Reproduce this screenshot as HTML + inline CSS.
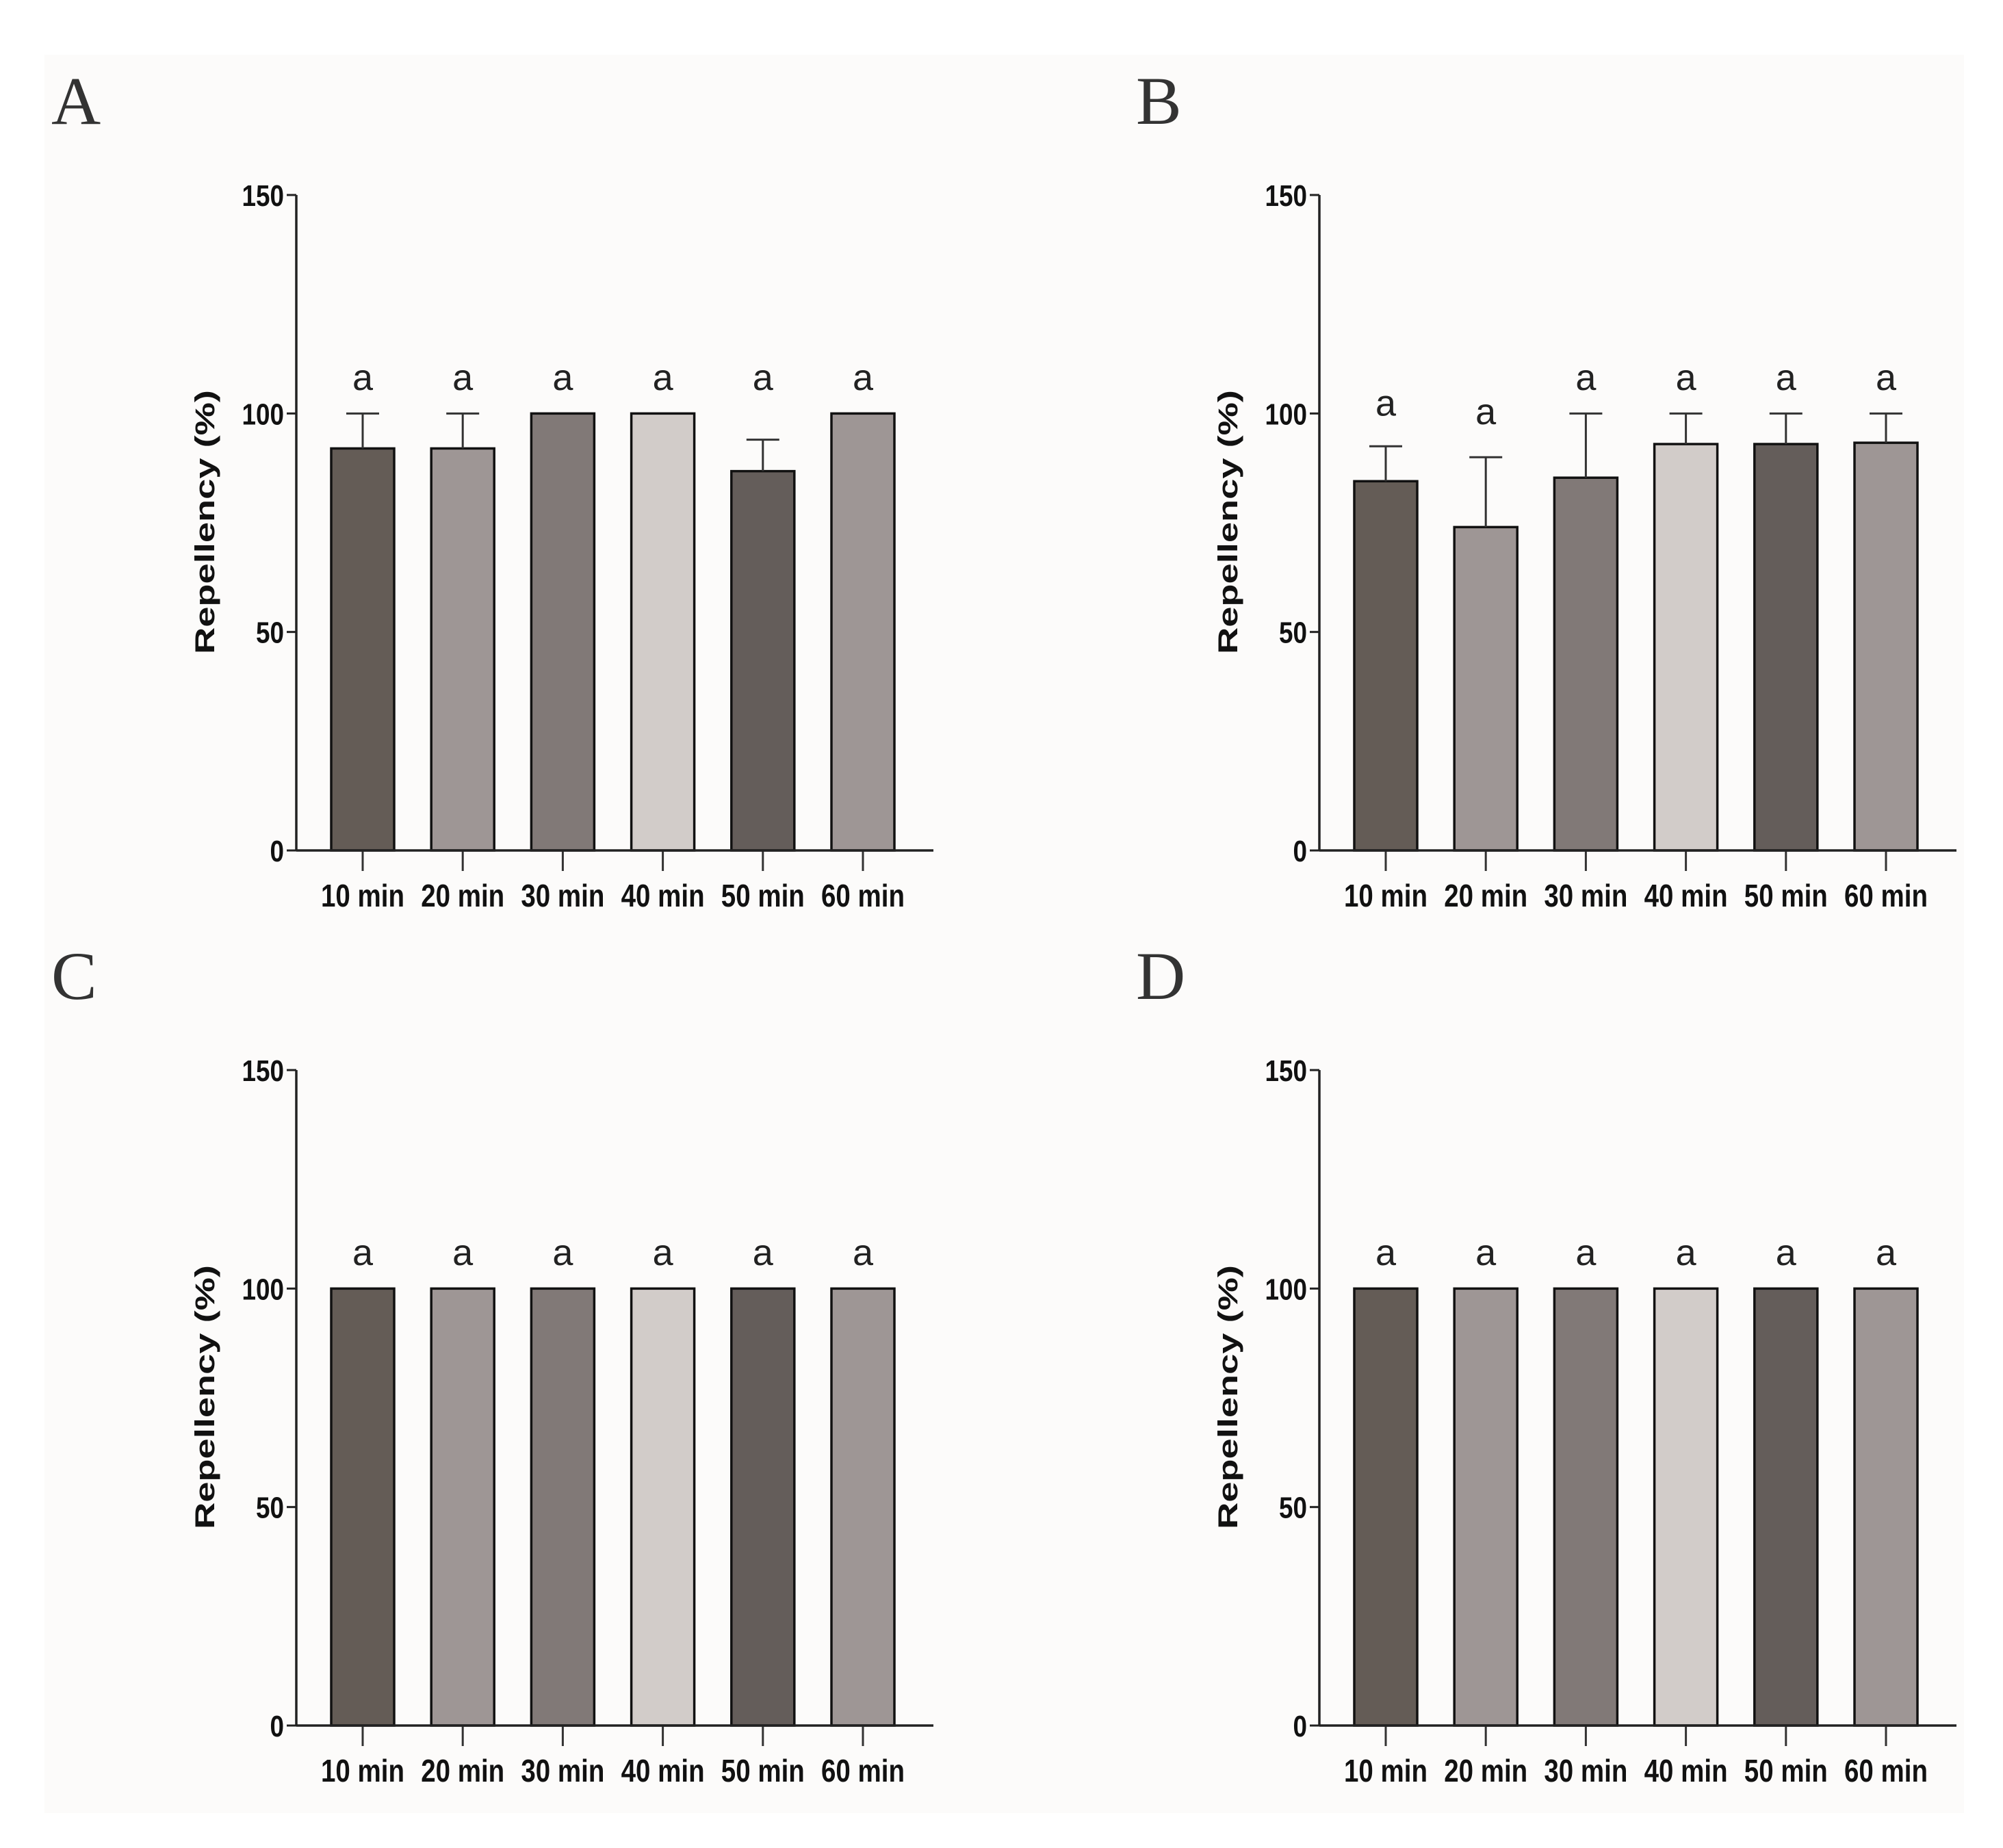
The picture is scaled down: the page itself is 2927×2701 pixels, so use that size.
<!DOCTYPE html>
<html><head><meta charset="utf-8"><style>
html,body{margin:0;padding:0;background:#fff;}
svg{display:block;}
text{font-family:"Liberation Sans Narrow","Liberation Sans",sans-serif;}
</style></head><body>
<svg id="fig" width="2927" height="2701" viewBox="0 0 2927 2701" xmlns="http://www.w3.org/2000/svg">
<rect x="65" y="80" width="2805" height="2570" fill="#fcfbfa"/>
</svg>
<script>
const categories = ["10 min","20 min","30 min","40 min","50 min","60 min"];
const yTicks = [0,50,100,150];
const yTickLabels = ["0","50","100","150"];
const barColors = ["#645c56","#9e9695","#817977","#d2ccc9","#645d5a","#9e9695"];
const letters = ["a","a","a","a","a","a"];
const valuesA = [92,92,100,100,86.8,100];
const errA = [8,8,0,0,7.2,0];
const letterPosA = [108,108,108,108,108,108];
const valuesB = [84.5,74,85.3,93,93,93.3];
const errB = [8,16,14.7,7,7,6.7];
const letterPosB = [102.2,100.2,108,108,108,108];
const valuesC = [100,100,100,100,100,100];
const errC = [0,0,0,0,0,0];
const letterPosC = [108,108,108,108,108,108];
const valuesD = [100,100,100,100,100,100];
const errD = [0,0,0,0,0,0];
const letterPosD = [108,108,108,108,108,108];

const NS = "http://www.w3.org/2000/svg";
const svg = document.getElementById("fig");
function mk(tag, attrs, parent, txt){
  const e = document.createElementNS(NS, tag);
  for (const k in attrs) e.setAttribute(k, attrs[k]);
  if (txt !== undefined) e.textContent = txt;
  parent.appendChild(e);
  return e;
}
function drawPanel(ox, oy, labelX, label, values, errs, letterPos, pname){
  const g = mk("g", {}, svg);
  
  
  const axX = 433 + ox, y0 = 1243 + oy, yTop = 285 + oy;
  const yS = v => y0 - (y0 - yTop) * v / 150;
  const xS = i => axX + 97 + i * 146.2;
  const bw = 92;
  const pl = mk("text", {x: labelX, y: 181 + oy, "font-size": 100, fill: "#333", style: "font-family:'Liberation Serif',serif"}, g, label);
  
  
  values.forEach((v, i) => {
    const cx = xS(i);
    const b = mk("rect", {x: cx - bw/2, y: yS(v), width: bw, height: y0 - yS(v), fill: barColors[i], stroke: "#111", "stroke-width": 3.5}, g);
    
    
    if (errs[i] > 0) {
      const ye = yS(v + errs[i]);
      const eb = mk("path", {d: `M${cx},${yS(v)} V${ye} M${cx-24},${ye} H${cx+24}`, stroke: "#333", "stroke-width": 3, fill: "none"}, g);
      
      
    }
    const lt = mk("text", {x: cx, y: yS(letterPos[i]) + 17, "font-size": 54, "text-anchor": "middle", fill: "#222"}, g, letters[i]);
    
    
    const tk = mk("line", {x1: cx, x2: cx, y1: y0, y2: y0 + 30, stroke: "#333", "stroke-width": 3}, g);
    
    
    const xl = mk("text", {x: cx, y: y0 + 82, "font-size": 46, "font-weight": "bold", "text-anchor": "middle", textLength: 122, lengthAdjust: "spacingAndGlyphs", fill: "#111"}, g, categories[i]);
    
    
  });
  const ya = mk("line", {x1: axX, x2: axX, y1: yTop, y2: y0, stroke: "#222", "stroke-width": 3.5}, g);
  
  
  const xa = mk("line", {x1: axX, x2: 1364 + ox, y1: y0, y2: y0, stroke: "#222", "stroke-width": 3.5}, g);
  
  
  yTicks.forEach((t, i) => {
    const yy = yS(t);
    const tl = mk("line", {x1: axX - 14, x2: axX, y1: yy, y2: yy, stroke: "#222", "stroke-width": 3}, g);
    
    
    const w = yTickLabels[i].length * 20.5;
    const lb = mk("text", {x: axX - 18, y: yy + 16, "font-size": 44, "font-weight": "bold", "text-anchor": "end", textLength: w, lengthAdjust: "spacingAndGlyphs", fill: "#111"}, g, yTickLabels[i]);
    
    
  });
  const cy = 763 + oy;
  const yt = mk("text", {x: 0, y: 0, transform: `translate(${313 + ox},${cy}) rotate(-90)`, "font-size": 40, "font-weight": "bold", "text-anchor": "middle", textLength: 386, lengthAdjust: "spacingAndGlyphs", fill: "#111", style: "font-family:'Liberation Sans',sans-serif"}, g, "Repellency (%)");
  
  
}
drawPanel(0, 0, 75, "A", valuesA, errA, letterPosA, "a");
drawPanel(1495, 0, 1660, "B", valuesB, errB, letterPosB, "b");
drawPanel(0, 1279, 75, "C", valuesC, errC, letterPosC, "c");
drawPanel(1495, 1279, 1660, "D", valuesD, errD, letterPosD, "d");
</script>
</body></html>
